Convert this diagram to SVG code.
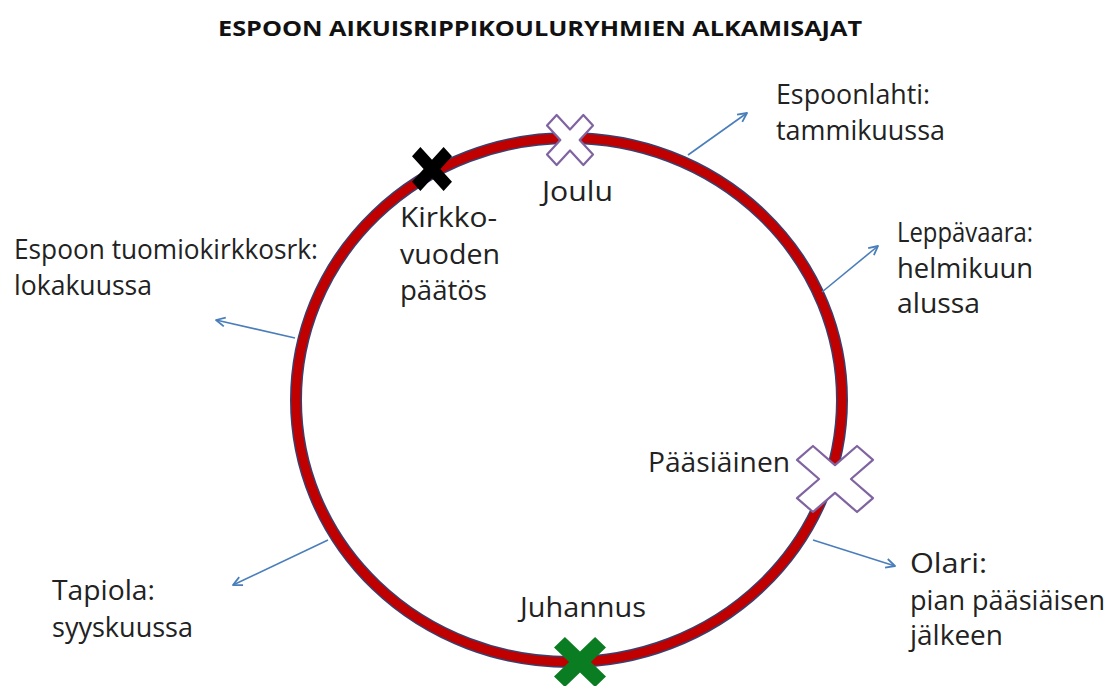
<svg xmlns="http://www.w3.org/2000/svg" width="1110" height="686" viewBox="0 0 1110 686">
<style>
.t{font-family:"Open Sans","Liberation Sans",sans-serif;font-size:27px;fill:#222;}
.title{font-family:"Open Sans","Liberation Sans",sans-serif;font-size:22px;font-weight:bold;fill:#111;}
.arr{stroke:#4a7ebb;stroke-width:1.6;fill:none;marker-end:url(#ah);}
.xo{fill:#fff;stroke:#8064a2;stroke-width:2.2;stroke-linejoin:round;}
</style>
<defs>
<marker id="ah" viewBox="0 0 12 12" refX="10" refY="6" markerWidth="12" markerHeight="12" markerUnits="userSpaceOnUse" orient="auto">
<path d="M1,1.5 L10,6 L1,10.5" fill="none" stroke="#4a7ebb" stroke-width="1.8" stroke-linejoin="round"/>
</marker>
<polygon id="xs" points="-0.58,-1 0,-0.42 0.58,-1 1,-0.58 0.42,0 1,0.58 0.58,1 0,0.42 -0.58,1 -1,0.58 -0.42,0 -1,-0.58"/>
</defs>
<rect width="1110" height="686" fill="#fff"/>
<text class="title" x="218" y="36" textLength="644" lengthAdjust="spacingAndGlyphs">ESPOON AIKUISRIPPIKOULURYHMIEN ALKAMISAJAT</text>
<g id="ring">
<ellipse cx="569" cy="400" rx="273" ry="262" fill="none" stroke="#3b3f6e" stroke-width="12"/>
<ellipse cx="569" cy="400" rx="273" ry="262" fill="none" stroke="#c00000" stroke-width="9"/>
</g>
<g id="connectors">
<line class="arr" x1="688" y1="155" x2="747" y2="113"/>
<line class="arr" x1="822" y1="292" x2="878" y2="246"/>
<line class="arr" x1="295" y1="338" x2="216" y2="320"/>
<line class="arr" x1="328" y1="540" x2="233" y2="585"/>
<line class="arr" x1="813" y1="540" x2="895" y2="566"/>
</g>
<g id="joulu">
<polygon class="xo" points="556.66,115 570,129.5 583.34,115 593,125.5 579.66,140 593,154.5 583.34,165 570,150.5 556.66,165 547,154.5 560.34,140 547,125.5"/>
<text class="t" x="542" y="201" textLength="71" lengthAdjust="spacingAndGlyphs">Joulu</text>
</g>
<g id="kirkkovuoden">
<g transform="translate(432,169) scale(20,22)"><use href="#xs" fill="#000"/></g>
<text class="t" x="400" y="227" textLength="97" lengthAdjust="spacingAndGlyphs">Kirkko-</text>
<text class="t" x="400" y="264" textLength="100" lengthAdjust="spacingAndGlyphs">vuoden</text>
<text class="t" x="400" y="300" textLength="87" lengthAdjust="spacingAndGlyphs">päätös</text>
</g>
<g id="paasiainen">
<polygon class="xo" points="812.96,446 835,465.14 857.04,446 873,459.86 850.96,479 873,498.14 857.04,512 835,492.86 812.96,512 797,498.14 819.04,479 797,459.86"/>
<text class="t" x="648" y="472" textLength="142" lengthAdjust="spacingAndGlyphs">Pääsiäinen</text>
</g>
<g id="juhannus">
<g transform="translate(580,662) scale(26,25)"><use href="#xs" fill="#0a7d22"/></g>
<text class="t" x="520" y="617" textLength="126" lengthAdjust="spacingAndGlyphs">Juhannus</text>
</g>
<g id="espoonlahti">
<text class="t" x="776" y="104" textLength="154" lengthAdjust="spacingAndGlyphs">Espoonlahti:</text>
<text class="t" x="776" y="140" textLength="169" lengthAdjust="spacingAndGlyphs">tammikuussa</text>
</g>
<g id="leppavaara">
<text class="t" x="897" y="242" textLength="136" lengthAdjust="spacingAndGlyphs">Leppävaara:</text>
<text class="t" x="897" y="278" textLength="136" lengthAdjust="spacingAndGlyphs">helmikuun</text>
<text class="t" x="897" y="313" textLength="83" lengthAdjust="spacingAndGlyphs">alussa</text>
</g>
<g id="tuomiokirkko">
<text class="t" x="14" y="259" textLength="304" lengthAdjust="spacingAndGlyphs">Espoon tuomiokirkkosrk:</text>
<text class="t" x="14" y="295" textLength="138" lengthAdjust="spacingAndGlyphs">lokakuussa</text>
</g>
<g id="tapiola">
<text class="t" x="52" y="600" textLength="103" lengthAdjust="spacingAndGlyphs">Tapiola:</text>
<text class="t" x="52" y="637" textLength="141" lengthAdjust="spacingAndGlyphs">syyskuussa</text>
</g>
<g id="olari">
<text class="t" x="910" y="573" textLength="77" lengthAdjust="spacingAndGlyphs">Olari:</text>
<text class="t" x="910" y="610" textLength="195" lengthAdjust="spacingAndGlyphs">pian pääsiäisen</text>
<text class="t" x="910" y="645" textLength="93" lengthAdjust="spacingAndGlyphs">jälkeen</text>
</g>
</svg>
